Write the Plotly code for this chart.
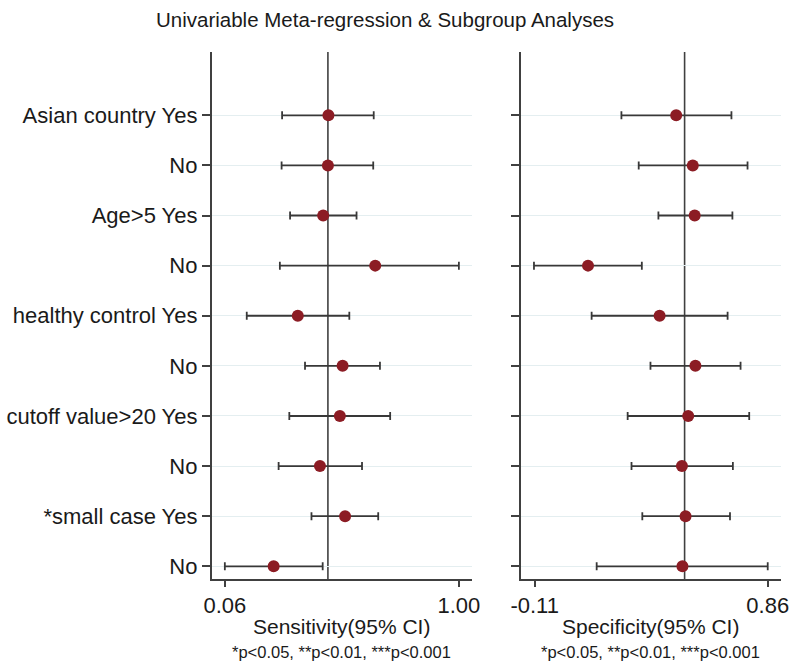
import plotly.graph_objects as go

# ---- data ----
row_labels = ["Asian country Yes", "No", "Age>5 Yes", "No", "healthy control Yes",
              "No", "cutoff value>20 Yes", "No", "*small case Yes", "No"]
row_pos = [1, 2, 3, 4, 5, 6, 7, 8, 9, 10]

sens_est = [0.476, 0.474, 0.455, 0.664, 0.353, 0.533, 0.522, 0.442, 0.543, 0.256]
sens_lo = [0.290, 0.288, 0.322, 0.281, 0.148, 0.382, 0.319, 0.276, 0.408, 0.060]
sens_hi = [0.658, 0.656, 0.589, 1.000, 0.560, 0.683, 0.724, 0.611, 0.676, 0.453]

spec_est = [0.479, 0.548, 0.556, 0.112, 0.410, 0.559, 0.529, 0.503, 0.518, 0.505]
spec_lo = [0.251, 0.323, 0.405, -0.113, 0.127, 0.372, 0.277, 0.293, 0.338, 0.148]
spec_hi = [0.709, 0.776, 0.713, 0.336, 0.693, 0.747, 0.783, 0.715, 0.703, 0.860]

ref_values = [0.474, 0.514]          # pooled estimates (vertical lines)
sens_ticks = [0.06, 1.00]
sens_ticktext = ["0.06", "1.00"]
spec_ticks = [-0.11, 0.86]
spec_ticktext = ["-0.11", "0.86"]

title = "Univariable Meta-regression & Subgroup Analyses"
xtitles = ["Sensitivity(95% CI)", "Specificity(95% CI)"]
footnote = "*p<0.05, **p<0.01, ***p<0.001"

# ---- style ----
FONT = "Liberation Sans, Arial, sans-serif"
MARK = "#8c1c24"
BAR = "#383838"
AX = "#404040"
GRID = "#e4eef0"
TXT = "#1a1a1a"

fig = go.Figure()

def add_panel(est, lo, hi, xa, ya):
    fig.add_trace(go.Scatter(
        x=est, y=row_pos, mode="markers", xaxis=xa, yaxis=ya,
        marker=dict(size=12, color=MARK),
        error_x=dict(type="data", symmetric=False,
                     array=[h - e for h, e in zip(hi, est)],
                     arrayminus=[e - l for e, l in zip(est, lo)],
                     color=BAR, thickness=1.8, width=4),
        showlegend=False, hoverinfo="x+y"))

add_panel(sens_est, sens_lo, sens_hi, "x", "y")
add_panel(spec_est, spec_lo, spec_hi, "x2", "y2")

ydom = [0.128, 0.9217]
yrange = [10.253, -0.263]
common_y = dict(range=yrange, domain=ydom, showline=True, linecolor=AX, linewidth=2,
                ticks="outside", ticklen=8, tickcolor=AX, tickwidth=1.5,
                tickvals=row_pos, showgrid=True, gridcolor=GRID, gridwidth=1,
                zeroline=False, mirror=False)
common_x = dict(showline=True, linecolor=AX, linewidth=2, ticks="outside",
                ticklen=6, tickcolor=AX, tickwidth=1.5, showgrid=False,
                zeroline=False, tickfont=dict(size=22, color=TXT, family=FONT))

fig.update_layout(
    width=796, height=664,
    margin=dict(l=0, r=0, t=0, b=0),
    plot_bgcolor="white", paper_bgcolor="white",
    font=dict(family=FONT, color=TXT),
    xaxis=dict(domain=[0.2595, 0.5936], range=[0.008, 1.052], anchor="y",
               tickvals=sens_ticks, ticktext=sens_ticktext, **common_x),
    xaxis2=dict(domain=[0.6565, 0.9906], range=[-0.168, 0.914], anchor="y2",
                tickvals=spec_ticks, ticktext=spec_ticktext, **common_x),
    yaxis=dict(anchor="x", ticktext=row_labels,
               tickfont=dict(size=22, color=TXT, family=FONT), **common_y),
    yaxis2=dict(anchor="x2", showticklabels=False, **common_y),
)

for i, (xr, yr) in enumerate([("x", "y domain"), ("x2", "y2 domain")]):
    fig.add_shape(type="line", xref=xr, yref=yr, x0=ref_values[i], x1=ref_values[i],
                  y0=0, y1=1, line=dict(color=AX, width=1.6), layer="below")

fig.add_annotation(text=title, xref="paper", yref="paper", x=0.482, y=0.97,
                   showarrow=False, xanchor="center", yanchor="middle",
                   font=dict(size=20.5, family=FONT, color=TXT))

centers = [(0.2595 + 0.5936) / 2, (0.6565 + 0.9906) / 2]
for c, t in zip(centers, xtitles):
    fig.add_annotation(text=t, xref="paper", yref="paper", x=c, y=0.0572,
                       showarrow=False, xanchor="center", yanchor="middle",
                       font=dict(size=21, family=FONT, color=TXT))
    fig.add_annotation(text=footnote, xref="paper", yref="paper", x=c, y=0.018,
                       showarrow=False, xanchor="center", yanchor="middle",
                       font=dict(size=16.5, family=FONT, color=TXT))

fig.write_html("out.html")
